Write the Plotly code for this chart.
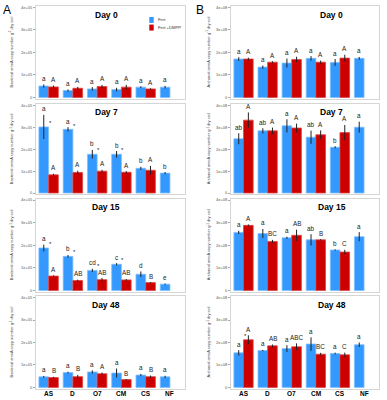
import plotly.graph_objects as go
from plotly.subplots import make_subplots

categories = ["AS", "D", "O7", "CM", "CS", "NF"]
days = ["Day 0", "Day 7", "Day 15", "Day 48"]

# Panel A: bacterial amoA (x 1e5 copies)
aob_fert = [[0.51, 0.31, 0.38, 0.35, 0.46, 0.46],
            [3.02, 2.91, 1.77, 1.77, 1.13, 0.91],
            [1.88, 1.51, 0.89, 1.16, 0.72, 0.28],
            [0.47, 0.66, 0.69, 0.64, 0.55, 0.47]]
aob_fert_err = [[0.07, 0.05, 0.08, 0.08, 0.04, 0.06],
                [0.55, 0.10, 0.20, 0.15, 0.07, 0.05],
                [0.15, 0.06, 0.07, 0.05, 0.12, 0.03],
                [0.04, 0.04, 0.07, 0.20, 0.05, 0.05]]
aob_dmpp = [[0.47, 0.41, 0.49, 0.46, 0.38, None],
            [0.83, 0.94, 1.00, 0.95, 1.04, None],
            [0.64, 0.44, 0.48, 0.47, 0.35, None],
            [0.44, 0.48, 0.61, 0.35, 0.48, None]]
aob_dmpp_err = [[0.06, 0.06, 0.07, 0.10, 0.03, None],
                [0.05, 0.08, 0.06, 0.05, 0.20, None],
                [0.03, 0.04, 0.07, 0.04, 0.02, None],
                [0.03, 0.08, 0.05, 0.02, 0.05, None]]
aob_fert_letters = [["a"] * 6,
                    ["a", "a", "b", "b", "b", "b"],
                    ["a", "b", "cd", "c", "d", "e"],
                    ["a"] * 6]
aob_dmpp_letters = [["A"] * 5,
                    ["A"] * 5,
                    ["A", "AB", "AB", "AB", "B"],
                    ["B", "B", "A", "B", "B"]]
aob_star = [[0] * 6, [1, 1, 1, 1, 0, 0], [1, 1, 1, 1, 0, 0], [0] * 6]

# Panel B: archaeal amoA (x 1e8 copies)
aoa_fert = [[1.71, 1.35, 1.53, 1.74, 1.56, 1.74],
            [2.48, 2.84, 3.07, 2.55, 2.09, 3.01],
            [2.57, 2.52, 2.33, 2.24, 1.79, 2.38],
            [1.54, 1.64, 1.73, 1.93, 1.51, 1.90]]
aoa_fert_err = [[0.08, 0.07, 0.20, 0.10, 0.15, 0.06],
                [0.25, 0.12, 0.30, 0.30, 0.05, 0.25],
                [0.07, 0.20, 0.05, 0.25, 0.03, 0.20],
                [0.12, 0.03, 0.15, 0.30, 0.04, 0.10]]
aoa_dmpp = [[1.71, 1.57, 1.69, 1.57, 1.75, None],
            [3.33, 2.84, 2.97, 2.66, 2.76, None],
            [2.88, 2.17, 2.44, 2.24, 1.70, None],
            [2.12, 1.85, 1.81, 1.48, 1.45, None]]
aoa_dmpp_err = [[0.06, 0.04, 0.12, 0.07, 0.15, None],
                [0.35, 0.15, 0.20, 0.20, 0.35, None],
                [0.04, 0.07, 0.25, 0.03, 0.10, None],
                [0.20, 0.06, 0.15, 0.06, 0.10, None]]
aoa_fert_letters = [["a"] * 6,
                    ["ab", "ab", "a", "ab", "b", "a"],
                    ["a", "a", "a", "ab", "b", "a"],
                    ["a"] * 6]
aoa_dmpp_letters = [["A"] * 5,
                    ["A"] * 5,
                    ["A", "BC", "AB", "B", "C"],
                    ["A", "AB", "ABC", "BC", "C"]]
aoa_star = [[0] * 6, [0] * 6, [0] * 6, [1, 0, 0, 0, 0, 0]]

a_ticks = ["0", "1e+05", "2e+05", "3e+05", "4e+05"]
b_ticks = ["0", "1e+08", "2e+08", "3e+08", "4e+08"]
tick_vals = [0, 1, 2, 3, 4]

BLUE = "#3399ff"
RED = "#cc0000"
FONT = "Liberation Sans, Arial, sans-serif"

fig = make_subplots(rows=4, cols=2)

row_px = [(5.4, 98.1), (103.9, 194.1), (198.9, 292.1), (296.9, 389.5)]
col_dom = [(36 / 387, 185 / 387), (231 / 387, 379 / 387)]
H = 400.0

panels = [
    (aob_fert, aob_fert_err, aob_dmpp, aob_dmpp_err, aob_fert_letters, aob_dmpp_letters, aob_star, a_ticks),
    (aoa_fert, aoa_fert_err, aoa_dmpp, aoa_dmpp_err, aoa_fert_letters, aoa_dmpp_letters, aoa_star, b_ticks),
]

annotations = []
shift = 4.9
for c, (fv, fe, dv, de, fl, dl, st, ticks) in enumerate(panels):
    for r in range(4):
        idx = r * 2 + c + 1
        xa = "x" if idx == 1 else f"x{idx}"
        ya = "y" if idx == 1 else f"y{idx}"
        fig.add_trace(go.Bar(
            x=categories, y=fv[r], name="Fert",
            marker=dict(color=BLUE, line=dict(color="#7fbfff", width=0.8)),
            error_y=dict(type="data", array=fe[r], color="#222222", thickness=1, width=0),
            showlegend=False), row=r + 1, col=c + 1)
        fig.add_trace(go.Bar(
            x=categories, y=dv[r], name="Fert +DMPP",
            marker=dict(color=RED, line=dict(color="#dd4444", width=0.8)),
            error_y=dict(type="data", array=de[r], color="#222222", thickness=1, width=0),
            showlegend=False), row=r + 1, col=c + 1)
        top, bot = row_px[r]
        fig.layout[f"xaxis{idx}"].update(
            domain=list(col_dom[c]), anchor=ya, range=[-0.52, 5.62],
            showline=True, mirror=True, linecolor="#d6d6d6", linewidth=1,
            ticks="", showticklabels=False)
        fig.layout[f"yaxis{idx}"].update(
            domain=[1 - bot / H, 1 - top / H], anchor=xa, range=[-0.05, 4.05],
            showline=True, mirror=True, linecolor="#d6d6d6", linewidth=1,
            showgrid=False, zeroline=False, tickvals=tick_vals, ticktext=ticks,
            ticks="outside", ticklen=2, tickcolor="#aaaaaa",
            tickfont=dict(size=4, family=FONT, color="#555555"))
        # x category labels under the bottom row
        if r == 3:
            for cat in categories:
                annotations.append(dict(
                    x=cat, y=1 - 394.5 / H, xref=xa, yref="paper", text=f"<b>{cat}</b>",
                    showarrow=False, xanchor="center", yanchor="middle",
                    font=dict(size=6.5, family=FONT, color="black")))
        # letters
        for i, cat in enumerate(categories):
            annotations.append(dict(
                x=cat, y=fv[r][i] + fe[r][i], xref=xa, yref=ya, text=fl[r][i],
                xshift=-shift, yshift=0.5, yanchor="bottom", showarrow=False,
                font=dict(size=6.3, family=FONT, color="#222222")))
            if dv[r][i] is not None:
                annotations.append(dict(
                    x=cat, y=dv[r][i] + de[r][i], xref=xa, yref=ya, text=dl[r][i],
                    xshift=shift, yshift=0.5, yanchor="bottom", showarrow=False,
                    font=dict(size=6.3, family=FONT, color="#222222")))
            if st[r][i]:
                ys = fv[r][i] + 0.22 if c == 0 else dv[r][i] + de[r][i]
                annotations.append(dict(
                    x=cat, y=ys, xref=xa, yref=ya, text="*", xshift=1.5, yshift=-1,
                    yanchor="middle", showarrow=False,
                    font=dict(size=6, family=FONT, color="#222222")))
        # day title
        annotations.append(dict(
            x=0.47 if c == 0 else 0.68, y=0.91, xref=f"{xa} domain", yref=f"{ya} domain",
            text=f"<b>{days[r]}</b>", showarrow=False, xanchor="center", yanchor="middle",
            font=dict(size=8.5, family=FONT, color="black")))
        # y-axis title
        title = ("Bacterial amoA copy number g<sup>-1</sup> dry soil" if c == 0
                 else "Archaeal amoA copy number g<sup>-1</sup> dry soil")
        annotations.append(dict(
            x=(12 if c == 0 else 209) / 387, y=1 - ((top + bot) / 2) / H, xref="paper", yref="paper",
            text=title, textangle=-90, showarrow=False, xanchor="center", yanchor="middle",
            font=dict(size=4, family=FONT, color="#444444")))

# panel letters
annotations.append(dict(x=1 / 387, y=1.0, xref="paper", yref="paper", text="A", showarrow=False,
                        xanchor="left", yanchor="top", font=dict(size=12, family=FONT, color="black")))
annotations.append(dict(x=194 / 387, y=1.0, xref="paper", yref="paper", text="B", showarrow=False,
                        xanchor="left", yanchor="top", font=dict(size=12, family=FONT, color="black")))

# legend (drawn manually in top-left subplot)
shapes = []
legend_items = [("Fert", BLUE, 16.0), ("Fert +DMPP", RED, 23.7)]
for label, col, ytop in legend_items:
    shapes.append(dict(type="rect", xref="paper", yref="paper",
                       x0=149.3 / 387, x1=153.7 / 387, y0=1 - (ytop + 6) / H, y1=1 - ytop / H,
                       fillcolor=col, line=dict(width=0)))
    annotations.append(dict(x=155.5 / 387, y=1 - (ytop + 3) / H, xref="paper", yref="paper",
                            text=label, showarrow=False, xanchor="left", yanchor="middle",
                            font=dict(size=4.2, family=FONT, color="#333333")))

fig.update_layout(
    width=387, height=400, margin=dict(l=0, r=0, t=0, b=0),
    barmode="group", bargap=0.2, bargroupgap=0,
    plot_bgcolor="white", paper_bgcolor="white",
    annotations=annotations, shapes=shapes, showlegend=False,
    font=dict(family=FONT), hovermode=False,
)

fig.write_html("out.html",
               config={"displayModeBar": False, "staticPlot": True},
               post_script="document.body.style.margin='0px';document.body.style.overflow='hidden';")
